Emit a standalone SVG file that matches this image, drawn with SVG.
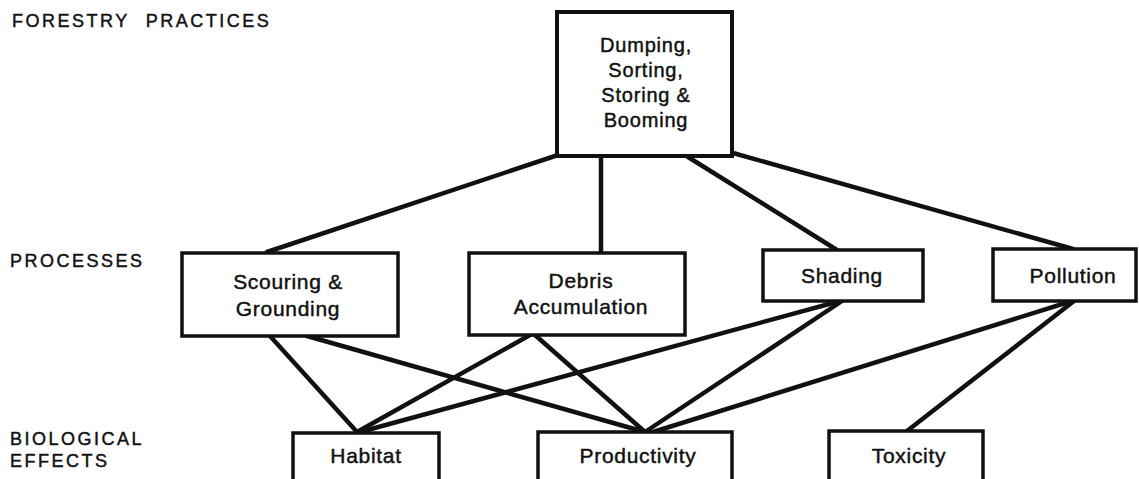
<svg xmlns="http://www.w3.org/2000/svg" width="1139" height="479" viewBox="0 0 1139 479">
  <style>
    .box { fill: #fff; stroke: #111; stroke-width: 3.5; }
    .link { stroke: #111; stroke-width: 4.5; stroke-linecap: round; fill: none; }
    .node { font-family: "Liberation Sans", Arial, sans-serif; font-size: 21px; letter-spacing: 0.7px; fill: #111; stroke: #111; stroke-width: 0.45; text-anchor: middle; }
    .top { font-size: 20px; letter-spacing: 0.8px; }
    .tier { font-family: "Liberation Sans", Arial, sans-serif; font-size: 18px; letter-spacing: 2.5px; fill: #111; stroke: #111; stroke-width: 0.45; }
  </style>
  <rect width="1139" height="479" fill="#fff"/>

  <!-- tier labels -->
  <g id="tier-labels">
    <text class="tier" x="12" y="27" word-spacing="9">FORESTRY PRACTICES</text>
    <text class="tier" x="10" y="267">PROCESSES</text>
    <text class="tier" x="10" y="445">BIOLOGICAL</text>
    <text class="tier" x="10" y="467">EFFECTS</text>
  </g>

  <!-- connectors -->
  <g id="connectors">
    <line class="link" x1="558" y1="155" x2="267" y2="252"/>
    <line class="link" x1="601" y1="157" x2="601" y2="253"/>
    <line class="link" x1="688" y1="157" x2="837" y2="250"/>
    <line class="link" x1="733" y1="153" x2="1073" y2="249"/>
    <line class="link" x1="270" y1="336" x2="357" y2="432"/>
    <line class="link" x1="307" y1="336" x2="645" y2="432"/>
    <line class="link" x1="530" y1="335" x2="357" y2="432"/>
    <line class="link" x1="535" y1="335" x2="645" y2="432"/>
    <line class="link" x1="840" y1="301" x2="360" y2="432"/>
    <line class="link" x1="842" y1="301" x2="645" y2="432"/>
    <line class="link" x1="1072" y1="301" x2="653" y2="432"/>
    <line class="link" x1="1074" y1="301" x2="907" y2="431"/>
  </g>

  <!-- forestry practice -->
  <g id="dumping">
    <rect class="box" x="557" y="12" width="175" height="144" style="stroke-width:4"/>
    <text class="node top" x="646" y="52">Dumping,</text>
    <text class="node top" x="646" y="77">Sorting,</text>
    <text class="node top" x="646" y="102">Storing &amp;</text>
    <text class="node top" x="646" y="127">Booming</text>
  </g>

  <!-- processes -->
  <g id="scouring">
    <rect class="box" x="182" y="253" width="216" height="83"/>
    <text class="node" x="288" y="289">Scouring &amp;</text>
    <text class="node" x="288" y="316">Grounding</text>
  </g>
  <g id="debris">
    <rect class="box" x="469" y="253" width="216" height="82"/>
    <text class="node" x="581" y="288">Debris</text>
    <text class="node" x="581" y="314">Accumulation</text>
  </g>
  <g id="shading">
    <rect class="box" x="763" y="250" width="160" height="51"/>
    <text class="node" x="842" y="283">Shading</text>
  </g>
  <g id="pollution">
    <rect class="box" x="993" y="249" width="143" height="52"/>
    <text class="node" x="1073" y="283">Pollution</text>
  </g>

  <!-- biological effects -->
  <g id="habitat">
    <rect class="box" x="293" y="433" width="146" height="60"/>
    <text class="node" x="366" y="463">Habitat</text>
  </g>
  <g id="productivity">
    <rect class="box" x="538" y="432" width="194" height="60"/>
    <text class="node" x="638" y="463">Productivity</text>
  </g>
  <g id="toxicity">
    <rect class="box" x="829" y="431" width="154" height="60"/>
    <text class="node" x="909" y="463">Toxicity</text>
  </g>
</svg>
